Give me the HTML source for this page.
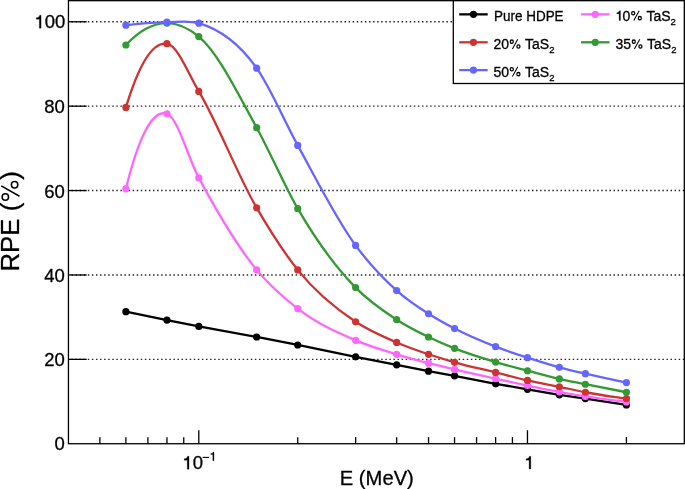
<!DOCTYPE html><html><head><meta charset="utf-8"><style>html,body{margin:0;padding:0;background:#fff;overflow:hidden;}svg{display:block;will-change:transform;}text{font-family:"Liberation Sans",sans-serif;fill:#000;stroke:#000;stroke-width:0.3px;}</style></head><body>
<svg width="685" height="489" viewBox="0 0 685 489">
<rect width="685" height="489" fill="#fff"/>
<line x1="68.44" y1="359.34" x2="684.30" y2="359.34" stroke="#222" stroke-width="1.4" stroke-dasharray="1.45 2.625" stroke-dashoffset="0.99"/>
<line x1="68.44" y1="274.95" x2="684.30" y2="274.95" stroke="#222" stroke-width="1.4" stroke-dasharray="1.45 2.625" stroke-dashoffset="0.99"/>
<line x1="68.44" y1="190.56" x2="684.30" y2="190.56" stroke="#222" stroke-width="1.4" stroke-dasharray="1.45 2.625" stroke-dashoffset="0.99"/>
<line x1="68.44" y1="106.17" x2="684.30" y2="106.17" stroke="#222" stroke-width="1.4" stroke-dasharray="1.45 2.625" stroke-dashoffset="0.99"/>
<line x1="68.44" y1="21.78" x2="684.30" y2="21.78" stroke="#222" stroke-width="1.4" stroke-dasharray="1.45 2.625" stroke-dashoffset="0.99"/>
<path d="M125.88,311.66 L166.95,320.10 L198.80,326.43 L256.68,336.98 L297.74,344.99 L355.62,356.81 L396.68,364.83 L428.53,371.15 L454.55,375.80 L495.62,383.81 L527.47,389.30 L559.32,394.78 L585.35,398.58 L626.41,404.91" fill="none" stroke="#000000" stroke-width="2.30" stroke-linejoin="round"/>
<circle cx="125.88" cy="311.66" r="3.60" fill="#000000"/>
<circle cx="166.95" cy="320.10" r="3.60" fill="#000000"/>
<circle cx="198.80" cy="326.43" r="3.60" fill="#000000"/>
<circle cx="256.68" cy="336.98" r="3.60" fill="#000000"/>
<circle cx="297.74" cy="344.99" r="3.60" fill="#000000"/>
<circle cx="355.62" cy="356.81" r="3.60" fill="#000000"/>
<circle cx="396.68" cy="364.83" r="3.60" fill="#000000"/>
<circle cx="428.53" cy="371.15" r="3.60" fill="#000000"/>
<circle cx="454.55" cy="375.80" r="3.60" fill="#000000"/>
<circle cx="495.62" cy="383.81" r="3.60" fill="#000000"/>
<circle cx="527.47" cy="389.30" r="3.60" fill="#000000"/>
<circle cx="559.32" cy="394.78" r="3.60" fill="#000000"/>
<circle cx="585.35" cy="398.58" r="3.60" fill="#000000"/>
<circle cx="626.41" cy="404.91" r="3.60" fill="#000000"/>
<path d="M125.88,188.87 C138.93,135.09 153.09,109.19 166.95,113.77 C177.72,117.32 188.16,158.09 198.80,177.90 C218.03,213.70 237.31,246.44 256.68,269.89 C270.33,286.42 284.04,298.02 297.74,308.71 C317.01,323.73 336.31,332.15 355.62,340.35 C369.30,346.17 382.99,350.10 396.68,354.28 C407.30,357.51 417.91,360.39 428.53,363.14 C437.21,365.38 445.88,367.41 454.55,369.47 C468.24,372.70 481.93,375.76 495.62,378.75 C506.24,381.07 516.85,383.32 527.47,385.50 C538.09,387.68 548.70,389.84 559.32,391.83 C568.00,393.46 576.67,395.08 585.35,396.47 C599.03,398.68 612.72,400.50 626.41,401.96" fill="none" stroke="#ff66ff" stroke-width="2.30" stroke-linejoin="round"/>
<circle cx="125.88" cy="188.87" r="3.60" fill="#ff66ff"/>
<circle cx="166.95" cy="113.77" r="3.60" fill="#ff66ff"/>
<circle cx="198.80" cy="177.90" r="3.60" fill="#ff66ff"/>
<circle cx="256.68" cy="269.89" r="3.60" fill="#ff66ff"/>
<circle cx="297.74" cy="308.71" r="3.60" fill="#ff66ff"/>
<circle cx="355.62" cy="340.35" r="3.60" fill="#ff66ff"/>
<circle cx="396.68" cy="354.28" r="3.60" fill="#ff66ff"/>
<circle cx="428.53" cy="363.14" r="3.60" fill="#ff66ff"/>
<circle cx="454.55" cy="369.47" r="3.60" fill="#ff66ff"/>
<circle cx="495.62" cy="378.75" r="3.60" fill="#ff66ff"/>
<circle cx="527.47" cy="385.50" r="3.60" fill="#ff66ff"/>
<circle cx="559.32" cy="391.83" r="3.60" fill="#ff66ff"/>
<circle cx="585.35" cy="396.47" r="3.60" fill="#ff66ff"/>
<circle cx="626.41" cy="401.96" r="3.60" fill="#ff66ff"/>
<path d="M125.88,107.44 C139.29,62.98 153.18,41.44 166.95,43.72 C177.62,45.49 188.20,73.60 198.80,91.40 C218.15,123.89 237.33,174.63 256.68,207.86 C270.34,231.33 284.03,252.68 297.74,269.89 C316.99,294.05 336.31,308.92 355.62,321.79 C369.30,330.90 382.99,336.59 396.68,342.46 C407.29,347.01 417.91,350.71 428.53,354.28 C437.20,357.19 445.88,359.83 454.55,362.29 C468.24,366.18 481.93,369.01 495.62,372.42 C506.24,375.07 516.85,378.05 527.47,380.44 C538.09,382.83 548.70,384.59 559.32,386.77 C568.00,388.55 576.67,390.61 585.35,392.25 C599.03,394.84 612.72,396.95 626.41,398.58" fill="none" stroke="#cc3333" stroke-width="2.30" stroke-linejoin="round"/>
<circle cx="125.88" cy="107.44" r="3.60" fill="#cc3333"/>
<circle cx="166.95" cy="43.72" r="3.60" fill="#cc3333"/>
<circle cx="198.80" cy="91.40" r="3.60" fill="#cc3333"/>
<circle cx="256.68" cy="207.86" r="3.60" fill="#cc3333"/>
<circle cx="297.74" cy="269.89" r="3.60" fill="#cc3333"/>
<circle cx="355.62" cy="321.79" r="3.60" fill="#cc3333"/>
<circle cx="396.68" cy="342.46" r="3.60" fill="#cc3333"/>
<circle cx="428.53" cy="354.28" r="3.60" fill="#cc3333"/>
<circle cx="454.55" cy="362.29" r="3.60" fill="#cc3333"/>
<circle cx="495.62" cy="372.42" r="3.60" fill="#cc3333"/>
<circle cx="527.47" cy="380.44" r="3.60" fill="#cc3333"/>
<circle cx="559.32" cy="386.77" r="3.60" fill="#cc3333"/>
<circle cx="585.35" cy="392.25" r="3.60" fill="#cc3333"/>
<circle cx="626.41" cy="398.58" r="3.60" fill="#cc3333"/>
<path d="M125.88,44.99 C139.55,30.29 153.25,22.97 166.95,23.05 C177.57,23.10 188.20,27.75 198.80,36.55 C218.17,52.62 237.42,92.89 256.68,127.69 C270.38,152.46 284.02,185.13 297.74,208.70 C316.98,241.78 336.29,267.86 355.62,287.61 C369.29,301.58 382.99,310.82 396.68,319.68 C407.29,326.54 417.91,331.83 428.53,336.98 C437.20,341.18 445.88,344.92 454.55,348.37 C468.24,353.81 481.93,357.99 495.62,362.08 C506.24,365.26 516.85,367.92 527.47,370.73 C538.09,373.55 548.70,376.54 559.32,378.96 C568.00,380.94 576.67,382.50 585.35,384.24 C599.03,386.97 612.72,389.64 626.41,392.25" fill="none" stroke="#339933" stroke-width="2.30" stroke-linejoin="round"/>
<circle cx="125.88" cy="44.99" r="3.60" fill="#339933"/>
<circle cx="166.95" cy="23.05" r="3.60" fill="#339933"/>
<circle cx="198.80" cy="36.55" r="3.60" fill="#339933"/>
<circle cx="256.68" cy="127.69" r="3.60" fill="#339933"/>
<circle cx="297.74" cy="208.70" r="3.60" fill="#339933"/>
<circle cx="355.62" cy="287.61" r="3.60" fill="#339933"/>
<circle cx="396.68" cy="319.68" r="3.60" fill="#339933"/>
<circle cx="428.53" cy="336.98" r="3.60" fill="#339933"/>
<circle cx="454.55" cy="348.37" r="3.60" fill="#339933"/>
<circle cx="495.62" cy="362.08" r="3.60" fill="#339933"/>
<circle cx="527.47" cy="370.73" r="3.60" fill="#339933"/>
<circle cx="559.32" cy="378.96" r="3.60" fill="#339933"/>
<circle cx="585.35" cy="384.24" r="3.60" fill="#339933"/>
<circle cx="626.41" cy="392.25" r="3.60" fill="#339933"/>
<path d="M125.88,25.16 C139.57,23.37 153.26,22.39 166.95,22.20 C177.57,22.06 188.19,20.07 198.80,23.21 C218.12,28.93 237.45,40.92 256.68,68.19 C270.41,87.69 284.04,120.53 297.74,145.41 C317.02,180.44 336.27,219.12 355.62,245.41 C369.28,263.99 382.98,278.36 396.68,290.56 C407.29,300.01 417.91,306.97 428.53,313.77 C437.20,319.32 445.88,324.04 454.55,328.54 C468.24,335.64 481.93,341.38 495.62,346.68 C506.23,350.79 516.85,354.21 527.47,357.65 C538.09,361.10 548.70,364.48 559.32,367.36 C568.00,369.71 576.67,371.67 585.35,373.69 C599.03,376.87 612.72,379.82 626.41,382.55" fill="none" stroke="#6666ff" stroke-width="2.30" stroke-linejoin="round"/>
<circle cx="125.88" cy="25.16" r="3.60" fill="#6666ff"/>
<circle cx="166.95" cy="22.20" r="3.60" fill="#6666ff"/>
<circle cx="198.80" cy="23.21" r="3.60" fill="#6666ff"/>
<circle cx="256.68" cy="68.19" r="3.60" fill="#6666ff"/>
<circle cx="297.74" cy="145.41" r="3.60" fill="#6666ff"/>
<circle cx="355.62" cy="245.41" r="3.60" fill="#6666ff"/>
<circle cx="396.68" cy="290.56" r="3.60" fill="#6666ff"/>
<circle cx="428.53" cy="313.77" r="3.60" fill="#6666ff"/>
<circle cx="454.55" cy="328.54" r="3.60" fill="#6666ff"/>
<circle cx="495.62" cy="346.68" r="3.60" fill="#6666ff"/>
<circle cx="527.47" cy="357.65" r="3.60" fill="#6666ff"/>
<circle cx="559.32" cy="367.36" r="3.60" fill="#6666ff"/>
<circle cx="585.35" cy="373.69" r="3.60" fill="#6666ff"/>
<circle cx="626.41" cy="382.55" r="3.60" fill="#6666ff"/>
<rect x="68.44" y="0.68" width="615.86" height="443.05" fill="none" stroke="#000" stroke-width="1.3"/>
<text x="64.8" y="450.15" font-size="18.5" text-anchor="end">0</text>
<line x1="68.44" y1="359.34" x2="86.74" y2="359.34" stroke="#000" stroke-width="1.3"/>
<text x="64.8" y="366.46" font-size="18.5" text-anchor="end">20</text>
<line x1="68.44" y1="274.95" x2="86.74" y2="274.95" stroke="#000" stroke-width="1.3"/>
<text x="64.8" y="282.07" font-size="18.5" text-anchor="end">40</text>
<line x1="68.44" y1="190.56" x2="86.74" y2="190.56" stroke="#000" stroke-width="1.3"/>
<text x="64.8" y="197.68" font-size="18.5" text-anchor="end">60</text>
<line x1="68.44" y1="106.17" x2="86.74" y2="106.17" stroke="#000" stroke-width="1.3"/>
<text x="64.8" y="113.29" font-size="18.5" text-anchor="end">80</text>
<line x1="68.44" y1="21.78" x2="86.74" y2="21.78" stroke="#000" stroke-width="1.3"/>
<path d="M359,0 L359,703 L288,703 C270,625 215,572 101,560 L101,490 L266,490 L266,0 Z" transform="translate(34.43,28.20) scale(0.01850,-0.01850)" fill="#000" stroke="#000" stroke-width="0.3" vector-effect="non-scaling-stroke"/>
<text x="65.3" y="28.20" font-size="18.5" text-anchor="end">00</text>
<line x1="99.86" y1="443.73" x2="99.86" y2="437.13" stroke="#000" stroke-width="1.3"/>
<line x1="125.88" y1="443.73" x2="125.88" y2="437.13" stroke="#000" stroke-width="1.3"/>
<line x1="147.89" y1="443.73" x2="147.89" y2="437.13" stroke="#000" stroke-width="1.3"/>
<line x1="166.95" y1="443.73" x2="166.95" y2="437.13" stroke="#000" stroke-width="1.3"/>
<line x1="183.76" y1="443.73" x2="183.76" y2="437.13" stroke="#000" stroke-width="1.3"/>
<line x1="198.80" y1="443.73" x2="198.80" y2="430.23" stroke="#000" stroke-width="1.3"/>
<line x1="297.74" y1="443.73" x2="297.74" y2="437.13" stroke="#000" stroke-width="1.3"/>
<line x1="355.62" y1="443.73" x2="355.62" y2="437.13" stroke="#000" stroke-width="1.3"/>
<line x1="396.68" y1="443.73" x2="396.68" y2="437.13" stroke="#000" stroke-width="1.3"/>
<line x1="428.53" y1="443.73" x2="428.53" y2="437.13" stroke="#000" stroke-width="1.3"/>
<line x1="454.55" y1="443.73" x2="454.55" y2="437.13" stroke="#000" stroke-width="1.3"/>
<line x1="476.56" y1="443.73" x2="476.56" y2="437.13" stroke="#000" stroke-width="1.3"/>
<line x1="495.62" y1="443.73" x2="495.62" y2="437.13" stroke="#000" stroke-width="1.3"/>
<line x1="512.43" y1="443.73" x2="512.43" y2="437.13" stroke="#000" stroke-width="1.3"/>
<line x1="527.47" y1="443.73" x2="527.47" y2="430.23" stroke="#000" stroke-width="1.3"/>
<line x1="626.41" y1="443.73" x2="626.41" y2="437.13" stroke="#000" stroke-width="1.3"/>
<path d="M359,0 L359,703 L288,703 C270,625 215,572 101,560 L101,490 L266,490 L266,0 Z" transform="translate(182.36,469.20) scale(0.01850,-0.01850)" fill="#000" stroke="#000" stroke-width="0.3" vector-effect="non-scaling-stroke"/>
<text x="192.65" y="469.2" font-size="18.5">0</text>
<rect x="202.6" y="456.85" width="6.4" height="1.1" fill="#000"/>
<path d="M359,0 L359,703 L288,703 C270,625 215,572 101,560 L101,490 L266,490 L266,0 Z" transform="translate(209.50,460.70) scale(0.01250,-0.01250)" fill="#000" stroke="#000" stroke-width="0.3" vector-effect="non-scaling-stroke"/>
<path d="M359,0 L359,703 L288,703 C270,625 215,572 101,560 L101,490 L266,490 L266,0 Z" transform="translate(524.30,469.00) scale(0.01810,-0.01810)" fill="#000" stroke="#000" stroke-width="0.3" vector-effect="non-scaling-stroke"/>
<text x="339.8" y="485.1" font-size="20.2">E (MeV)</text>
<text transform="translate(18.9,271.5) rotate(-90)" font-size="26.2" textLength="100.3" lengthAdjust="spacingAndGlyphs">RPE (<tspan style="fill:none;stroke:none">%</tspan>)</text>
<path d="M10.62,184.80 a3.97,3.97 0 1,0 7.95,0 a3.97,3.97 0 1,0 -7.95,0 Z M12.27,184.80 a2.33,2.33 0 1,1 4.65,0 a2.33,2.33 0 1,1 -4.65,0 Z M1.38,197.00 a3.97,3.97 0 1,0 7.95,0 a3.97,3.97 0 1,0 -7.95,0 Z M3.02,197.00 a2.33,2.33 0 1,1 4.65,0 a2.33,2.33 0 1,1 -4.65,0 Z M0.94,186.48 L19.14,196.88 L19.86,195.62 L1.66,185.22 Z " fill="#000" fill-rule="evenodd"/>
<rect x="453.3" y="0.68" width="231.00" height="82.82" fill="#fff" stroke="#000" stroke-width="1.3"/>
<line x1="459.20" y1="14.35" x2="487.70" y2="14.35" stroke="#000000" stroke-width="2.30"/>
<circle cx="473.45" cy="14.35" r="3.60" fill="#000000"/>
<line x1="581.00" y1="14.35" x2="609.50" y2="14.35" stroke="#ff66ff" stroke-width="2.30"/>
<circle cx="595.25" cy="14.35" r="3.60" fill="#ff66ff"/>
<line x1="459.20" y1="42.30" x2="487.70" y2="42.30" stroke="#cc3333" stroke-width="2.30"/>
<circle cx="473.45" cy="42.30" r="3.60" fill="#cc3333"/>
<line x1="581.00" y1="42.30" x2="609.50" y2="42.30" stroke="#339933" stroke-width="2.30"/>
<circle cx="595.25" cy="42.30" r="3.60" fill="#339933"/>
<line x1="459.20" y1="70.10" x2="487.70" y2="70.10" stroke="#6666ff" stroke-width="2.30"/>
<circle cx="473.45" cy="70.10" r="3.60" fill="#6666ff"/>
<text x="494.0" y="20.5" font-size="14.0" textLength="69.6" lengthAdjust="spacingAndGlyphs">Pure HDPE</text>
<path d="M359,0 L359,703 L288,703 C270,625 215,572 101,560 L101,490 L266,490 L266,0 Z" transform="translate(615.40,20.60) scale(0.01400,-0.01400)" fill="#000" stroke="#000" stroke-width="0.3" vector-effect="non-scaling-stroke"/>
<text x="622.59" y="20.6" font-size="14.0">0<tspan style="fill:none;stroke:none">%</tspan> TaS<tspan font-size="9.5" dy="4.6">2</tspan></text>
<path d="M631.04,13.25 a2.14,2.14 0 1,0 4.27,0 a2.14,2.14 0 1,0 -4.27,0 Z M632.23,13.25 a0.94,0.94 0 1,1 1.89,0 a0.94,0.94 0 1,1 -1.89,0 Z M637.69,18.15 a2.14,2.14 0 1,0 4.27,0 a2.14,2.14 0 1,0 -4.27,0 Z M638.88,18.15 a0.94,0.94 0 1,1 1.89,0 a0.94,0.94 0 1,1 -1.89,0 Z M634.26,20.85 L639.65,11.05 L638.73,10.55 L633.34,20.35 Z " fill="#000" fill-rule="evenodd"/>
<text x="493.40" y="49.00" font-size="14.0">20<tspan style="fill:none;stroke:none">%</tspan> TaS<tspan font-size="9.5" dy="4.2">2</tspan></text><path d="M509.64,41.65 a2.14,2.14 0 1,0 4.27,0 a2.14,2.14 0 1,0 -4.27,0 Z M510.83,41.65 a0.94,0.94 0 1,1 1.89,0 a0.94,0.94 0 1,1 -1.89,0 Z M516.29,46.55 a2.14,2.14 0 1,0 4.27,0 a2.14,2.14 0 1,0 -4.27,0 Z M517.48,46.55 a0.94,0.94 0 1,1 1.89,0 a0.94,0.94 0 1,1 -1.89,0 Z M512.86,49.25 L518.25,39.45 L517.33,38.95 L511.94,48.75 Z " fill="#000" fill-rule="evenodd"/>
<text x="615.40" y="49.00" font-size="14.0">35<tspan style="fill:none;stroke:none">%</tspan> TaS<tspan font-size="9.5" dy="4.2">2</tspan></text><path d="M631.64,41.65 a2.14,2.14 0 1,0 4.27,0 a2.14,2.14 0 1,0 -4.27,0 Z M632.83,41.65 a0.94,0.94 0 1,1 1.89,0 a0.94,0.94 0 1,1 -1.89,0 Z M638.29,46.55 a2.14,2.14 0 1,0 4.27,0 a2.14,2.14 0 1,0 -4.27,0 Z M639.48,46.55 a0.94,0.94 0 1,1 1.89,0 a0.94,0.94 0 1,1 -1.89,0 Z M634.86,49.25 L640.25,39.45 L639.33,38.95 L633.94,48.75 Z " fill="#000" fill-rule="evenodd"/>
<text x="493.40" y="76.60" font-size="14.0">50<tspan style="fill:none;stroke:none">%</tspan> TaS<tspan font-size="9.5" dy="4.2">2</tspan></text><path d="M509.64,69.25 a2.14,2.14 0 1,0 4.27,0 a2.14,2.14 0 1,0 -4.27,0 Z M510.83,69.25 a0.94,0.94 0 1,1 1.89,0 a0.94,0.94 0 1,1 -1.89,0 Z M516.29,74.15 a2.14,2.14 0 1,0 4.27,0 a2.14,2.14 0 1,0 -4.27,0 Z M517.48,74.15 a0.94,0.94 0 1,1 1.89,0 a0.94,0.94 0 1,1 -1.89,0 Z M512.86,76.85 L518.25,67.05 L517.33,66.55 L511.94,76.35 Z " fill="#000" fill-rule="evenodd"/>
</svg></body></html>
